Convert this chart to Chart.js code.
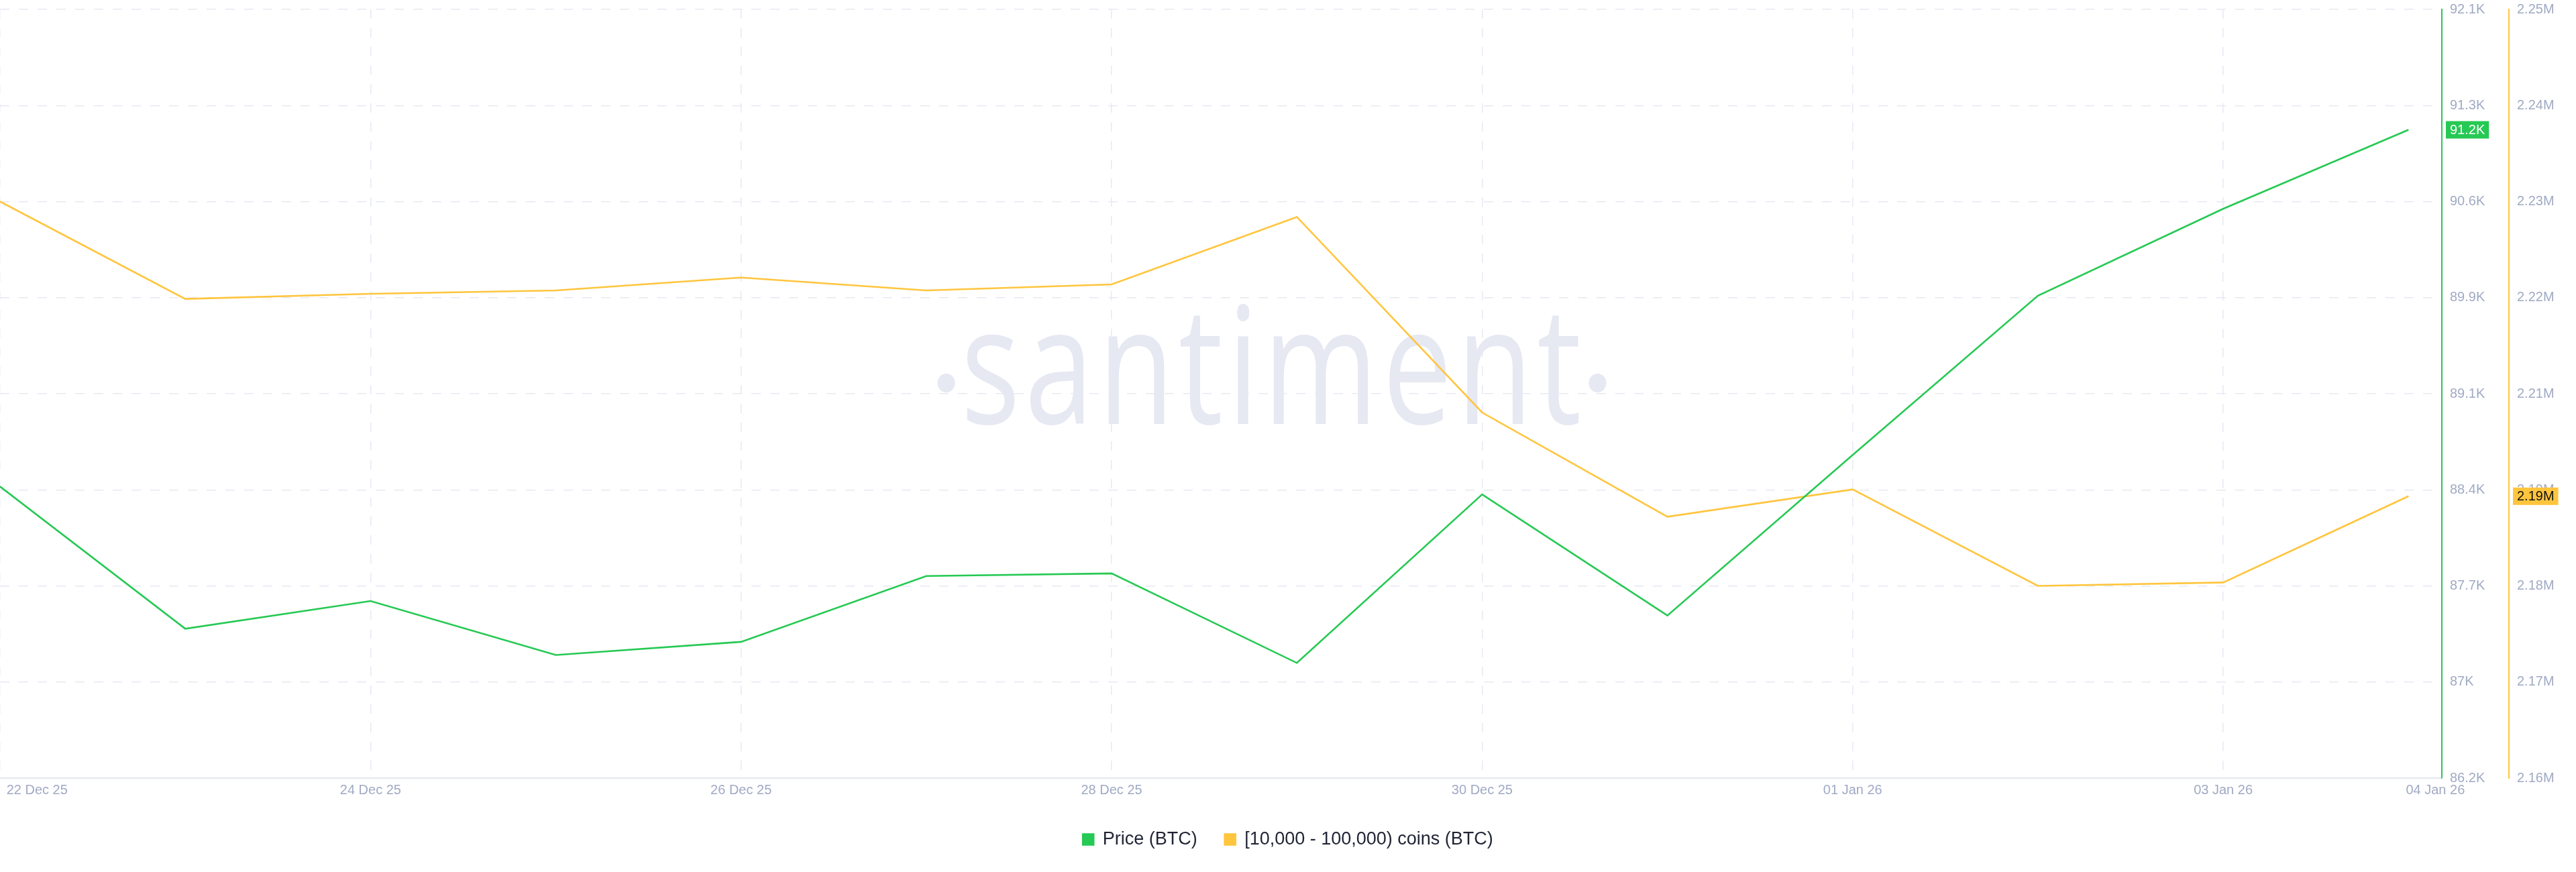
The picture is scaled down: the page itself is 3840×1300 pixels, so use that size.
<!DOCTYPE html>
<html>
<head>
<meta charset="utf-8">
<script src="https://cdn.jsdelivr.net/npm/chart.js@4.4.1/dist/chart.umd.min.js"></script>
<style>
    html, body { margin: 0; padding: 0; background: #ffffff; }
    #wrap { width: 3840px; height: 1300px; position: relative; }
</style>
</head>
<body>
<div id="wrap"><canvas id="chart"></canvas></div>
<script>
const days = [
    '22 Dec 25', '23 Dec 25', '24 Dec 25', '25 Dec 25', '26 Dec 25', '27 Dec 25', '28 Dec 25',
    '29 Dec 25', '30 Dec 25', '31 Dec 25', '01 Jan 26', '02 Jan 26', '03 Jan 26', '04 Jan 26'
];
const priceBTC = [88440, 87360, 87570, 87160, 87260, 87760, 87780, 87100, 88380, 87460, 88680, 89890, 90550, 91150];
const holders10kTo100k = [2227700, 2216300, 2216900, 2217300, 2218800, 2217300, 2218000, 2225900, 2203000, 2190800, 2194000, 2182700, 2183100, 2193200];
const xTickLabels = ['22 Dec 25', '24 Dec 25', '26 Dec 25', '28 Dec 25', '30 Dec 25', '01 Jan 26', '03 Jan 26', '04 Jan 26'];
const priceRange = [86225, 92065];
const holdersRange = [2160200, 2250200];

const GREEN = '#26c953';
const YELLOW = '#ffc53d';
const GRID = '#e7e9f3';
const LBL = '#a0aac4';
const tickFont = { family: '"Liberation Sans", Arial, sans-serif', size: 20 };

function fmtK(v) {
    return (v / 1000).toFixed(1).replace(/\.0$/, '') + 'K';
}

function fmtM(v) {
    return (v / 1e6).toFixed(2) + 'M';
}

function evenTicks(min, max, steps) {
    const out = [];
    for (let i = 0; i <= steps; i++) out.push({ value: min + (max - min) * i / steps });
    return out;
}

// x ticks: grid line at each labelled day, the first and last labels nudged inward
function dateTicks() {
    const ticks = [{ value: 0, text: '', grid: true }];
    xTickLabels.forEach((lbl, i) => {
        const idx = days.indexOf(lbl);
        if (i === 0) ticks.push({ value: idx + 0.2, text: lbl, grid: false });
        else if (i === xTickLabels.length - 1) ticks.push({ value: idx + 0.145, text: lbl, grid: false });
        else ticks.push({ value: idx, text: lbl, grid: true });
    });
    return ticks;
}

const watermark = {
    id: 'watermark',
    beforeDraw(chart) {
        const { ctx, chartArea } = chart;
        const cx = chartArea.left + chartArea.width * 0.5206;
        const base = 632;
        const sx = 0.76;
        ctx.save();
        ctx.fillStyle = '#e6e8f2';
        ctx.font = '400 243px "Open Sans", sans-serif';
        if ('letterSpacing' in ctx) ctx.letterSpacing = '9px';
        ctx.textAlign = 'left';
        ctx.textBaseline = 'alphabetic';
        const w = (ctx.measureText('santiment').width - 9) * sx;
        ctx.save();
        ctx.translate(cx - w / 2, base);
        ctx.scale(sx, 1);
        ctx.fillText('santiment', 0, 0);
        ctx.restore();
        // the two dots either side of the word
        [cx - w / 2 - 22, cx + w / 2 + 24].forEach(x => {
            ctx.beginPath();
            ctx.ellipse(x, base - 61, 13, 14, 0, 0, Math.PI * 2);
            ctx.fill();
        });
        ctx.restore();
    }
};

const badgeText = { y: '#ffffff', y1: '#111111' };

const lastValueBadges = {
    id: 'lastValueBadges',
    afterDraw(chart) {
        const { ctx } = chart;
        chart.data.datasets.forEach(ds => {
            const scale = chart.scales[ds.yAxisID];
            const last = ds.data[ds.data.length - 1].y;
            const y = scale.getPixelForValue(last);
            const text = scale.options.ticks.callback(last);
            ctx.save();
            ctx.font = '20px "Liberation Sans", Arial, sans-serif';
            const w = ctx.measureText(text).width + 12;
            const x = scale.left + 6;
            ctx.fillStyle = ds.borderColor;
            ctx.fillRect(x, y - 13, w, 26);
            ctx.fillStyle = badgeText[ds.yAxisID];
            ctx.textBaseline = 'middle';
            ctx.fillText(text, x + 6, y + 1);
            ctx.restore();
        });
    }
};

const ctx = document.getElementById('chart');

new Chart(ctx, {
    type: 'line',
    data: {
        datasets: [{
            label: 'Price (BTC)',
            data: priceBTC.map((v, i) => ({ x: i, y: v })),
            borderColor: GREEN,
            backgroundColor: GREEN,
            borderWidth: 2.6,
            pointRadius: 0,
            tension: 0,
            yAxisID: 'y'
        }, {
            label: '[10,000 - 100,000) coins (BTC)',
            data: holders10kTo100k.map((v, i) => ({ x: i, y: v })),
            borderColor: YELLOW,
            backgroundColor: YELLOW,
            borderWidth: 2.6,
            pointRadius: 0,
            tension: 0,
            yAxisID: 'y1'
        }]
    },
    plugins: [watermark, lastValueBadges],
    options: {
        responsive: true,
        maintainAspectRatio: false,
        animation: false,
        events: [],
        layout: { padding: { top: 0, left: 0, right: 0, bottom: 25 } },

        plugins: {
            tooltip: { enabled: false },
            legend: {
                position: 'bottom',
                labels: {
                    boxWidth: 16,
                    boxHeight: 16,
                    padding: 41,
                    color: '#1f2334',
                    font: { family: '"Liberation Sans", Arial, sans-serif', size: 27 }
                }
            }
        },

        scales: {
            x: {
                type: 'linear',
                min: 0,
                max: 13.18,
                afterBuildTicks: scale => { scale.ticks = dateTicks(); },
                afterFit: scale => {
                    scale.paddingLeft = 0;
                    scale.paddingRight = 0;
                    scale.height = 37;
                },
                ticks: {
                    autoSkip: false,
                    maxRotation: 0,
                    padding: 6,
                    color: LBL,
                    font: tickFont,
                    callback: (v, i, t) => t[i].text
                },
                grid: {
                    color: c => (c.tick && c.tick.grid) ? GRID : 'rgba(0,0,0,0)',
                    lineWidth: 1.5,
                    drawTicks: false
                },
                border: { color: '#e3e6ef', width: 2, dash: [14, 14] }
            },

            y: {
                position: 'right',
                min: priceRange[0],
                max: priceRange[1],
                afterBuildTicks: scale => { scale.ticks = evenTicks(scale.min, scale.max, 8); },
                afterFit: scale => {
                    scale.width = 100;
                    scale.paddingTop = 14;
                    scale.paddingBottom = 0;
                },
                ticks: { padding: 12, color: LBL, font: tickFont, callback: v => fmtK(v) },
                grid: { color: GRID, lineWidth: 1.5, drawTicks: false },
                border: { color: GREEN, width: 2, dash: [14, 14] }
            },

            y1: {
                position: 'right',
                min: holdersRange[0],
                max: holdersRange[1],
                afterBuildTicks: scale => { scale.ticks = evenTicks(scale.min, scale.max, 8); },
                afterFit: scale => {
                    scale.width = 100;
                    scale.paddingTop = 14;
                    scale.paddingBottom = 0;
                },
                ticks: { padding: 12, color: LBL, font: tickFont, callback: v => fmtM(v) },
                grid: { drawOnChartArea: false, drawTicks: false },
                border: { color: YELLOW, width: 2 }
            }
        }
    }
});
</script>
</body>
</html>
